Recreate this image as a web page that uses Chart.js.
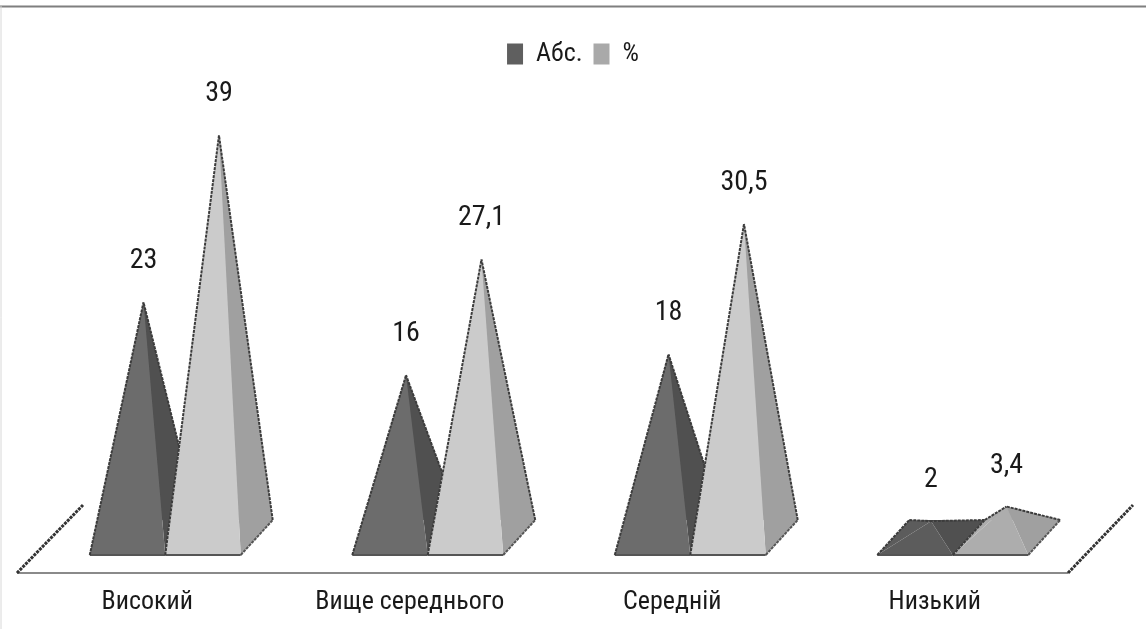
<!DOCTYPE html>
<html>
<head>
<meta charset="utf-8">
<style>
    html, body { margin: 0; padding: 0; background: #fff; }
    #wrap { width: 1146px; height: 629px; }
</style>
<script src="https://cdn.jsdelivr.net/npm/chart.js@4/dist/chart.umd.js"></script>
</head>
<body>
<div id="wrap"><canvas id="grafico" width="1146" height="629"></canvas></div>
<script>
    var categorie = ['Високий', 'Вище середнього', 'Середній', 'Низький'];
    var valoriAbs = [23, 16, 18, 2];
    var valoriPerc = [39, 27.1, 30.5, 3.4];

    var fontTesto = 'Roboto, "Liberation Sans", sans-serif';
    var coloriFacce = [
        { fronte: '#6c6c6c', basso: '#5c5c5c', lato: '#505050' },
        { fronte: '#cbcbcb', basso: '#adadad', lato: '#a0a0a0' }
    ];

    function poligono(ctx, punti, colore) {
        ctx.beginPath();
        ctx.moveTo(punti[0][0], punti[0][1]);
        for (var i = 1; i < punti.length; i++) {
            ctx.lineTo(punti[i][0], punti[i][1]);
        }
        ctx.closePath();
        ctx.fillStyle = colore;
        ctx.fill();
    }

    function linea(ctx, a, b, colore, spessore, tratteggio) {
        ctx.beginPath();
        ctx.setLineDash(tratteggio || []);
        ctx.moveTo(a[0], a[1]);
        ctx.lineTo(b[0], b[1]);
        ctx.strokeStyle = colore;
        ctx.lineWidth = spessore;
        ctx.stroke();
        ctx.setLineDash([]);
    }

    function disegnaPiramide(ctx, barra, facce, testo) {
        var sin = barra.x - barra.width / 2;
        var des = barra.x + barra.width / 2;
        var avanti = barra.base + 13;
        var dietro = barra.base - 22;
        var apice = [barra.x + 16, barra.y];
        var fs = [sin, avanti], fd = [des, avanti];
        var ds = [sin + 32, dietro], dd = [des + 32, dietro];
        var bassa = barra.base - barra.y < 50;
        var fronte = bassa ? facce.basso : facce.fronte;

        poligono(ctx, [ds, dd, apice], facce.lato);
        poligono(ctx, [fs, ds, apice], fronte);
        poligono(ctx, [fd, dd, apice], facce.lato);
        poligono(ctx, [fs, fd, apice], fronte);

        linea(ctx, fs, fd, '#555', 2);
        linea(ctx, fd, dd, '#555', 2, [3, 1]);
        linea(ctx, dd, apice, '#3c3c3c', 2, [3, 1]);
        if (bassa) {
            linea(ctx, fs, ds, '#3c3c3c', 2, [3, 1]);
            linea(ctx, ds, apice, '#3c3c3c', 2, [3, 1]);
        } else {
            linea(ctx, fs, apice, '#3c3c3c', 2, [3, 1]);
        }

        ctx.fillStyle = '#1a1a1a';
        ctx.font = 'condensed 28px ' + fontTesto;
        ctx.textAlign = 'center';
        ctx.textBaseline = 'middle';
        ctx.fillText(testo, apice[0], barra.y - 41);
    }

    // le barre vengono ridisegnate come piramidi usando le posizioni calcolate da Chart.js
    var piramidi = {
        id: 'piramidi',
        afterLayout: function (chart) {
            // legenda centrata sulla pagina, non sull'area del grafico
            chart.legend.left += 14;
            chart.legend.right += 14;
        },
        beforeDatasetsDraw: function (chart) {
            var ctx = chart.ctx;
            var zero = chart.scales.y.getPixelForValue(0);
            var area = chart.chartArea;
            var sx = area.left - 17, dx = area.right - 16;
            ctx.save();
            linea(ctx, [0, 6.5], [1146, 6.5], '#7f7f7f', 2);
            linea(ctx, [1, 6], [1, 629], '#d8d8d8', 1);
            linea(ctx, [sx, zero + 31], [dx, zero + 31], '#8a8a8a', 2);
            linea(ctx, [sx, zero + 31], [sx + 66, zero - 37], '#333', 3, [3, 1]);
            linea(ctx, [dx, zero + 31], [dx + 65, zero - 37], '#333', 3, [3, 1]);
            // ordine: prima Абс., poi % sopra
            chart.data.datasets.forEach(function (ds, n) {
                chart.getDatasetMeta(n).data.forEach(function (barra, i) {
                    disegnaPiramide(ctx, barra, coloriFacce[n], String(ds.data[i]).replace('.', ','));
                });
            });
            ctx.restore();
        },
        beforeDatasetDraw: function () {
            return false;
        }
    };

    new Chart(document.getElementById('grafico'), {
        type: 'bar',
        data: {
            labels: categorie,
            datasets: [
                { label: 'Абс.', data: valoriAbs, backgroundColor: '#5f5f5f' },
                { label: '%', data: valoriPerc, backgroundColor: '#a9a9a9' }
            ]
        },
        options: {
            responsive: false,
            animation: false,
            categoryPercentage: 0.575,
            barPercentage: 1,
            layout: { padding: { top: 30, left: 34, right: 62 } },
            plugins: {
                tooltip: { enabled: false },
                legend: {
                    position: 'top',
                    labels: {
                        boxWidth: 16,
                        boxHeight: 21,
                        padding: 11,
                        color: '#1a1a1a',
                        // weight finisce nella stringa del font: serve per il condensed
                        font: { family: fontTesto, size: 26, weight: 'condensed' }
                    }
                }
            },
            scales: {
                x: {
                    grid: { display: false },
                    border: { display: false },
                    afterFit: function (scala) { scala.height = 87; },
                    ticks: {
                        color: '#1a1a1a',
                        padding: 37,
                        labelOffset: -18,
                        maxRotation: 0,
                        font: { family: fontTesto, size: 26, weight: 'condensed' }
                    }
                },
                y: {
                    display: false,
                    min: 0,
                    max: 44.6
                }
            }
        },
        plugins: [piramidi]
    });
</script>
</body>
</html>
